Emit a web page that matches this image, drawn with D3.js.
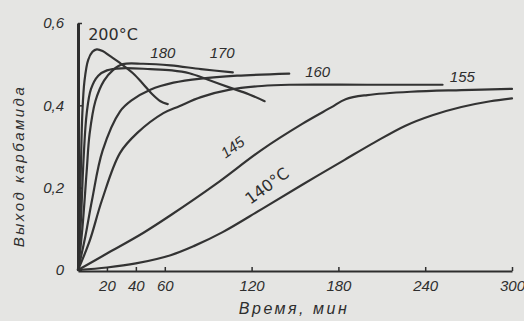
<!DOCTYPE html>
<html>
<head>
<meta charset="utf-8">
<script src="https://cdn.jsdelivr.net/npm/d3@7"></script>
<style>
  html, body { margin: 0; padding: 0; background: #e5e5e3; }
  svg { display: block; }
  text { font-family: "Liberation Sans", "DejaVu Sans", sans-serif; fill: #2e2e2e; }
</style>
</head>
<body>
<svg id="chart" width="524" height="321"></svg>
<script>
// Urea yield vs. reaction time at different temperatures
// Each series: [time (min), yield]
const series200 = [[0,0],[1,0.1],[2,0.25],[3,0.38],[4.5,0.46],[7,0.51],[10,0.53],[13,0.536],[17,0.532],[22,0.52],[29,0.503],[38,0.478],[45,0.452],[51,0.428],[57,0.41],[62,0.403]];
const series180 = [[0,0],[2,0.12],[4,0.28],[6,0.38],[9,0.44],[14,0.472],[20,0.485],[30,0.49],[50,0.488],[65,0.485],[77,0.478],[90,0.462],[105,0.443],[118,0.427],[129,0.41]];
const series170 = [[0,0],[3,0.1],[6,0.24],[8,0.33],[12,0.41],[18,0.46],[24,0.485],[31,0.5],[45,0.501],[64,0.497],[85,0.488],[107,0.48]];
const series160 = [[0,0],[5,0.08],[9.7,0.17],[17,0.29],[29,0.385],[37,0.412],[50,0.438],[66,0.455],[85,0.465],[110,0.472],[146,0.477]];
const series155 = [[0,0],[8,0.07],[16.6,0.17],[29,0.284],[41,0.333],[59,0.381],[70,0.398],[85,0.42],[105,0.438],[127,0.447],[146,0.45],[200,0.45],[252,0.45]];
const series145 = [[0,0],[20,0.04],[45,0.09],[64,0.133],[95,0.208],[127,0.292],[155,0.355],[175,0.395],[185,0.415],[200,0.425],[230,0.433],[265,0.437],[300,0.44]];
const series140 = [[0,0],[20,0.006],[40,0.016],[64,0.036],[80,0.058],[100,0.092],[127,0.148],[155,0.207],[184,0.267],[205,0.31],[226,0.35],[245,0.376],[265,0.396],[285,0.41],[300,0.417]];

const xTicks = [20, 40, 60, 120, 180, 240, 300];
const yTicks = [0, 0.2, 0.4, 0.6];
const yTickLabels = ["0", "0,2", "0,4", "0,6"];

// Curve labels: text, anchor point in data units, rotation
const curveLabels = [
  { text: "200°C", t: 7,   v: 0.559, rot: 0,   size: 16, italic: false, font: "DejaVu Sans" },
  { text: "180",   t: 50,  v: 0.515, rot: 0,   size: 15, italic: true,  font: "Liberation Sans" },
  { text: "170",   t: 91,  v: 0.515, rot: 0,   size: 15, italic: true,  font: "Liberation Sans" },
  { text: "160",   t: 157, v: 0.468, rot: 0,   size: 15, italic: true,  font: "Liberation Sans" },
  { text: "155",   t: 257, v: 0.457, rot: 0,   size: 15, italic: true,  font: "Liberation Sans" },
  { text: "145",   t: 102, v: 0.27,  rot: -36, size: 15, italic: true,  font: "Liberation Sans" },
  { text: "140°C", t: 119, v: 0.158, rot: -36, size: 16, italic: false, font: "DejaVu Sans" }
];

const allSeries = [series200, series180, series170, series160, series155, series145, series140];

const svg = d3.select("#chart");
const x = d3.scaleLinear().domain([0, 300]).range([78, 512]);
const y = d3.scaleLinear().domain([0, 0.6]).range([270, 23]);

const line = d3.line()
  .x(d => x(d[0]))
  .y(d => y(d[1]))
  .curve(d3.curveCatmullRom.alpha(0.5));

svg.append("g")
  .selectAll("path")
  .data(allSeries)
  .join("path")
  .attr("d", line)
  .attr("fill", "none")
  .attr("stroke", "#333")
  .attr("stroke-width", 2.2)
  .attr("stroke-linecap", "round");

// x axis
const xAxis = svg.append("g")
  .attr("transform", `translate(0,${y(0) + 1})`)
  .call(d3.axisBottom(x).tickValues(xTicks).tickSizeInner(-4).tickSizeOuter(0).tickPadding(9));
xAxis.select(".domain").attr("stroke", "#2e2e2e").attr("stroke-width", 2);
xAxis.selectAll(".tick line").attr("stroke", "#2e2e2e").attr("stroke-width", 1.5);
xAxis.selectAll(".tick text")
  .attr("font-size", 15).attr("font-style", "italic").attr("fill", "#2e2e2e")
  .style("font-family", "'Liberation Sans', sans-serif");

// y axis
const yAxis = svg.append("g")
  .attr("transform", `translate(${x(0)},0)`)
  .call(d3.axisLeft(y).tickValues(yTicks).tickFormat((d, i) => yTickLabels[i])
    .tickSizeInner(-4).tickSizeOuter(0).tickPadding(14));
yAxis.select(".domain").attr("stroke", "#2e2e2e").attr("stroke-width", 3);
yAxis.selectAll(".tick line").attr("stroke", "#2e2e2e").attr("stroke-width", 1.5);
yAxis.selectAll(".tick text")
  .attr("font-size", 15).attr("font-style", "italic").attr("fill", "#2e2e2e")
  .style("font-family", "'Liberation Sans', sans-serif");

// curve labels
svg.append("g")
  .selectAll("text")
  .data(curveLabels)
  .join("text")
  .attr("transform", d => `translate(${x(d.t)},${y(d.v)}) rotate(${d.rot})`)
  .attr("font-size", d => d.size)
  .attr("font-style", d => d.italic ? "italic" : "normal")
  .style("font-family", d => `'${d.font}', sans-serif`)
  .text(d => d.text);

// axis titles
svg.append("text")
  .attr("x", 294).attr("y", 314)
  .attr("text-anchor", "middle")
  .attr("font-size", 16)
  .attr("font-style", "italic")
  .attr("letter-spacing", 2.5)
  .text("Время, мин");

svg.append("text")
  .attr("transform", "translate(24,166) rotate(-90)")
  .attr("text-anchor", "middle")
  .attr("font-size", 15)
  .attr("font-style", "italic")
  .attr("letter-spacing", 2.5)
  .text("Выход карбамида");
</script>
</body>
</html>
